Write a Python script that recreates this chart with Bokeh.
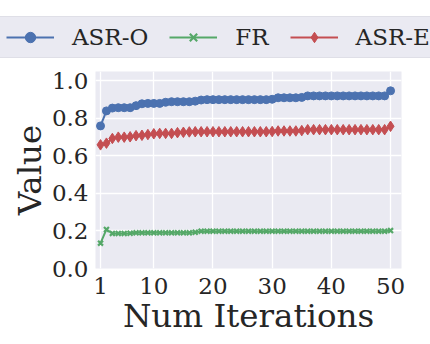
from bokeh.plotting import figure
from bokeh.layouts import column
from bokeh.models import Legend, LegendItem, FixedTicker, Range1d, PrintfTickFormatter
from bokeh.embed import file_html
from bokeh.resources import INLINE

iterations = list(range(1, 51))
asr_o = [0.760, 0.840, 0.855, 0.857, 0.857, 0.857, 0.868, 0.878, 0.880, 0.880,
         0.880, 0.886, 0.889, 0.889, 0.889, 0.889, 0.892, 0.898, 0.900, 0.900,
         0.900, 0.900, 0.900, 0.900, 0.900, 0.900, 0.900, 0.900, 0.900, 0.902,
         0.910, 0.910, 0.910, 0.910, 0.912, 0.920, 0.920, 0.920, 0.920, 0.920,
         0.920, 0.920, 0.920, 0.920, 0.920, 0.920, 0.920, 0.920, 0.920, 0.947]
fr = [0.135, 0.208, 0.187, 0.187, 0.187, 0.188, 0.190, 0.190, 0.190, 0.190,
      0.190, 0.190, 0.190, 0.190, 0.190, 0.190, 0.193, 0.199, 0.199, 0.199,
      0.199, 0.199, 0.199, 0.199, 0.199, 0.199, 0.199, 0.199, 0.199, 0.199,
      0.199, 0.199, 0.199, 0.199, 0.199, 0.199, 0.199, 0.199, 0.199, 0.199,
      0.199, 0.199, 0.199, 0.199, 0.199, 0.199, 0.199, 0.199, 0.199, 0.202]
asr_e = [0.659, 0.668, 0.693, 0.700, 0.700, 0.702, 0.708, 0.710, 0.714, 0.718,
         0.720, 0.720, 0.720, 0.724, 0.726, 0.728, 0.729, 0.729, 0.729, 0.729,
         0.729, 0.729, 0.729, 0.729, 0.729, 0.729, 0.729, 0.729, 0.729, 0.730,
         0.733, 0.733, 0.733, 0.733, 0.735, 0.740, 0.740, 0.740, 0.740, 0.740,
         0.740, 0.740, 0.740, 0.740, 0.740, 0.740, 0.740, 0.740, 0.740, 0.758]
labels = ["ASR-O", "FR", "ASR-E"]
y_ticks = [0.0, 0.2, 0.4, 0.6, 0.8, 1.0]
x_ticks = [1, 10, 20, 30, 40, 50]

BLUE = "#4C72B0"
GREEN = "#55A868"
RED = "#C44E52"
FONT = "DejaVu Serif"
TXT = "#262626"


def add_series(fig, visible=True):
    l1 = fig.line(iterations, asr_o, line_color=BLUE, line_width=2, visible=visible)
    s1 = fig.scatter(iterations, asr_o, marker="circle", size=8, fill_color=BLUE,
                     line_color=BLUE, visible=visible)
    l2 = fig.line(iterations, fr, line_color=GREEN, line_width=2, visible=visible)
    s2 = fig.scatter(iterations, fr, marker="x", size=7, line_color=GREEN,
                     line_width=2.2, visible=visible)
    l3 = fig.line(iterations, asr_e, line_color=RED, line_width=2, visible=visible)
    s3 = fig.scatter(iterations, asr_e, marker="diamond", size=10.5, fill_color=RED,
                     line_color=RED, visible=visible)
    return [(l1, s1), (l2, s2), (l3, s3)]


# ---- legend strip (separate figure on top) ----
lf = figure(width=430, height=63, output_backend="svg", toolbar_location=None,
            x_range=Range1d(0, 1), y_range=Range1d(0, 1),
            min_border_left=0, min_border_right=0, min_border_top=0,
            min_border_bottom=0, x_axis_location=None, y_axis_location=None)
lf.grid.visible = False
lf.outline_line_color = None
lf.background_fill_color = "white"
lf.border_fill_color = "white"
pairs_l = add_series(lf, visible=False)

legend = Legend(items=[LegendItem(label=labels[i], renderers=list(pairs_l[i]))
                       for i in range(3)],
                orientation="horizontal", location=(-2, 5))
legend.background_fill_color = "#EAEAF2"
legend.background_fill_alpha = 1.0
legend.border_line_color = "#D4D4DC"
legend.border_line_width = 1
legend.inactive_fill_alpha = 0.0
legend.label_text_font = FONT
legend.label_text_font_size = "23px"
legend.label_text_color = TXT
legend.glyph_width = 48
legend.glyph_height = 26
legend.label_height = 26
legend.label_standoff = 18
legend.spacing = 21
legend.padding = 7
legend.margin = 0
lf.add_layout(legend, "center")

# ---- main plot ----
p = figure(width=430, height=281, output_backend="svg", toolbar_location=None,
           x_range=Range1d(0.15, 51.85), y_range=Range1d(0, 1.05),
           min_border_left=95, min_border_right=29, min_border_top=8,
           min_border_bottom=76)
p.background_fill_color = "#EAEAF2"
p.border_fill_color = "white"
p.outline_line_color = None
add_series(p)

for fig in (lf, p):
    try:
        fig.frame_align = False
    except Exception:
        pass

for ax in (p.xaxis[0], p.yaxis[0]):
    ax.axis_line_color = None
    ax.major_tick_line_color = None
    ax.minor_tick_line_color = None
    ax.major_tick_out = 0
    ax.major_tick_in = 0
    ax.minor_tick_out = 0
    ax.minor_tick_in = 0
    ax.major_label_text_font = FONT
    ax.major_label_text_font_size = "23px"
    ax.major_label_text_color = TXT
    ax.axis_label_text_font = FONT
    ax.axis_label_text_font_size = "32.5px"
    ax.axis_label_text_font_style = "normal"
    ax.axis_label_text_color = TXT

p.xaxis.axis_label = "Num Iterations"
p.yaxis.axis_label = "Value"
p.xaxis.ticker = FixedTicker(ticks=x_ticks)
p.yaxis.ticker = FixedTicker(ticks=y_ticks)
p.yaxis.formatter = PrintfTickFormatter(format="%.1f")
p.xaxis.major_label_standoff = 9
p.yaxis.major_label_standoff = 7
p.xaxis.axis_label_standoff = 0
p.yaxis.axis_label_standoff = 0

p.xgrid.ticker = FixedTicker(ticks=x_ticks)
p.ygrid.ticker = FixedTicker(ticks=y_ticks)
p.grid.grid_line_color = "white"
p.grid.grid_line_width = 1.3

layout = column(lf, p, spacing=0)
open("out.html", "w").write(file_html(layout, INLINE))
